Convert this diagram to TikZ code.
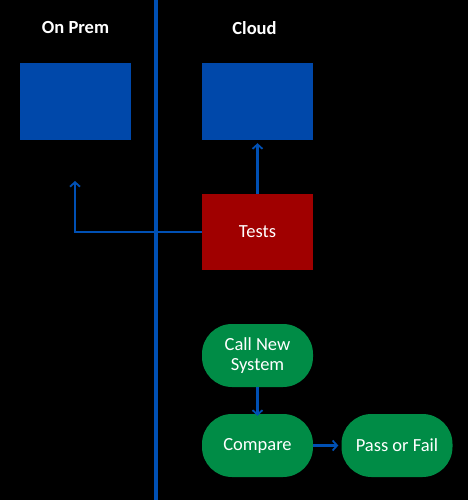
\documentclass[tikz,border=0pt]{standalone}
\usepackage{fontspec}
\setmainfont{Carlito}
\usetikzlibrary{arrows.meta}

\definecolor{boxblue}{RGB}{0,72,170}
\definecolor{lineblue}{RGB}{0,80,180}
\definecolor{testred}{RGB}{160,0,0}
\definecolor{stepgreen}{RGB}{0,140,70}

\begin{document}
\begin{tikzpicture}[
  x=1pt,y=-1pt,
  every node/.style={font=\fontsize{18.5}{20}\selectfont,text=white},
  sysbox/.style={fill=boxblue,minimum width=111pt,minimum height=77pt,inner sep=0pt},
  testbox/.style={fill=testred,minimum width=111pt,minimum height=76pt,inner sep=0pt},
  stepbox/.style={fill=stepgreen,rounded corners=30pt,minimum width=111pt,minimum height=63pt,inner sep=0pt,align=center},
  head/.style={font=\fontsize{18.5}{20}\selectfont\bfseries},
  flow/.style={draw=lineblue,line width=2.2pt,-{Straight Barb[length=4.5pt,width=10pt,line width=1.8pt]}}
  ]
  \path[fill=black,use as bounding box] (0,0) rectangle (468,500);

  % divider
  \draw[lineblue,line width=4pt] (156,0) -- (156,500);

  \node[head] (NPrem)  at (75.5,28) {On Prem};
  \node[head] (NCloud) at (254.5,28) {Cloud};

  \node[sysbox] (NPremSys)  at (75.5,101.5) {};
  \node[sysbox] (NCloudSys) at (257.5,101.5) {};
  \node[testbox] (NTests)   at (257.5,232) {Tests};

  \node[stepbox] (NCall)    at (257.5,355.5) {Call New\\System};
  \node[stepbox] (NCompare) at (257.5,445.5) {Compare};
  \node[stepbox] (NPass)    at (397,445.5) {Pass or Fail};

  \coordinate (NPremIn) at (75,181);

  \draw[flow] (NTests.west |- 0,232) -| (NPremIn);
  \draw[flow] (NTests.north) -- ([yshift=-3pt]NCloudSys.south);
  \draw[flow] (NCall.south) -- ([yshift=-2pt]NCompare.north);
  \draw[flow] (NCompare.east) -- ([xshift=-3pt]NPass.west);
\end{tikzpicture}
\end{document}
